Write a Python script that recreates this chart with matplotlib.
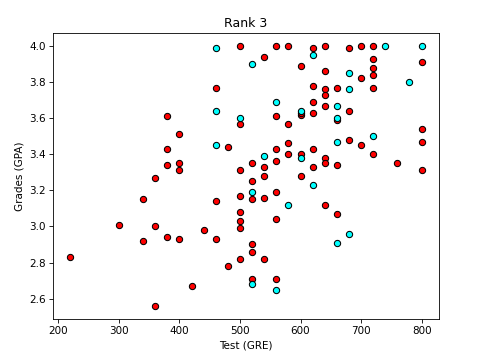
import matplotlib
matplotlib.use('Agg')
import matplotlib.pyplot as plt

# Rank 3 applicants: not admitted (red) and admitted (cyan)
gre_rejected = [380, 400, 380, 380, 400, 400, 360, 340, 300, 360, 340, 380, 400, 220, 420, 360,
                500, 560, 580, 620, 640, 540, 600, 640, 460, 620, 640, 640, 660, 620, 600, 600,
                620, 640, 500, 560, 580, 660, 480, 560, 580, 620, 580, 600, 520, 560, 540, 620,
                640, 640, 660, 500, 540, 600, 520, 520, 500, 540, 560, 460, 640, 660, 500, 500,
                560, 440, 500, 460, 520, 520, 500, 540, 480, 520, 560, 680, 700, 720, 720, 800,
                720, 720, 700, 720, 680, 800, 680, 700, 800, 720, 760, 800]
gpa_rejected = [3.61, 3.51, 3.43, 3.34, 3.35, 3.31, 3.27, 3.15, 3.01, 3.00, 2.92, 2.94, 2.93, 2.83, 2.67, 2.56,
                4.00, 4.00, 4.00, 3.99, 4.00, 3.94, 3.89, 3.86, 3.77, 3.78, 3.76, 3.73, 3.77, 3.69, 3.62, 3.63,
                3.63, 3.67, 3.57, 3.61, 3.57, 3.59, 3.44, 3.43, 3.46, 3.43, 3.40, 3.40, 3.35, 3.36, 3.33, 3.33,
                3.38, 3.35, 3.34, 3.31, 3.28, 3.28, 3.25, 3.15, 3.17, 3.16, 3.19, 3.14, 3.12, 3.07, 3.08, 3.03,
                3.04, 2.98, 2.99, 2.93, 2.90, 2.86, 2.82, 2.82, 2.78, 2.71, 2.71, 3.99, 4.00, 4.00, 3.93, 3.91,
                3.88, 3.84, 3.82, 3.77, 3.64, 3.54, 3.48, 3.45, 3.47, 3.40, 3.35, 3.31]

gre_admitted = [460, 620, 520, 560, 460, 600, 660, 500, 660, 460, 660, 540, 600, 620, 520, 580,
                520, 560, 660, 740, 800, 680, 780, 680, 720, 680]
gpa_admitted = [3.99, 3.95, 3.90, 3.69, 3.64, 3.64, 3.67, 3.60, 3.60, 3.45, 3.47, 3.39, 3.38, 3.23, 3.19, 3.12,
                2.68, 2.65, 2.91, 4.00, 4.00, 3.85, 3.80, 3.76, 3.50, 2.96]

fig = plt.figure(figsize=(481 / 75, 359 / 75), dpi=75)
ax = fig.add_subplot(111)
fig.subplots_adjust(left=0.110, right=0.913, bottom=0.112, top=0.908)

ax.scatter(gre_rejected, gpa_rejected, c='red', edgecolors='black')
ax.scatter(gre_admitted, gpa_admitted, c='cyan', edgecolors='black')

ax.set_title('Rank 3')
ax.set_xlabel('Test (GRE)')
ax.set_ylabel('Grades (GPA)')

fig.savefig('out.png', dpi=75)
